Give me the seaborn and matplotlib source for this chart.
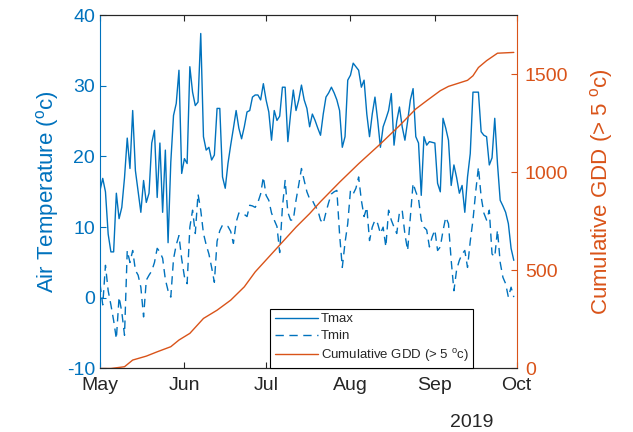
import numpy as np
import pandas as pd
import seaborn as sns
import matplotlib.pyplot as plt
import matplotlib.dates as mdates

# daily air temperature, 1 May - 30 Sep 2019
tmax = [15.2, 16.9, 15.0, 9.0, 6.5, 6.5, 14.8, 11.2, 12.8, 17.0,
        22.6, 18.3, 26.5, 18.0, 15.0, 12.1, 16.6, 13.5, 14.8, 21.9,
        23.7, 14.2, 21.9, 12.1, 20.9, 7.8, 19.2, 25.8, 27.5, 32.2,
        17.6,
        19.7, 19.0, 32.7, 29.1, 27.2, 27.7, 37.4, 22.8, 20.9, 21.3,
        19.5, 20.2, 26.8, 26.8, 17.1, 15.5, 19.0, 21.6, 24.0, 26.5,
        24.0, 22.5, 24.2, 26.3, 26.5, 28.4, 28.7, 28.7, 28.0, 30.3,
        28.0, 26.3, 22.3, 26.5, 25.1, 25.7, 29.8, 29.8, 22.1, 26.0,
        29.4, 26.5, 28.0, 30.1, 28.0, 26.8, 24.2, 26.0, 25.1, 24.0,
        23.0, 26.0, 28.4, 29.0, 29.8, 29.0, 28.0, 26.5, 21.3, 22.8,
        30.8,
        31.5, 33.2, 32.7, 32.2, 29.8, 30.8, 26.0, 22.8, 26.0, 28.4,
        25.1, 21.3, 24.2, 25.3, 26.5, 28.9, 21.6, 25.0, 27.0, 24.2,
        22.3, 25.0, 28.0, 29.6, 22.8, 21.9, 14.5, 22.8, 21.6, 22.1,
        22.0,
        21.9, 16.2, 15.0, 25.4, 24.0, 22.3, 15.9, 18.8, 17.0, 14.8,
        15.9, 12.1, 17.1, 20.4, 29.1, 29.1, 29.1, 23.5, 23.0, 22.8,
        18.8, 19.8, 25.4, 19.0, 13.8, 13.0, 12.1, 10.5, 7.0, 5.3]

tmin = [2.0, -1.0, 4.6, 1.0, -1.0, -3.2, -5.8, 0.1, -2.0, -5.3,
        6.7, 5.0, 6.7, 3.9, 3.2, 1.5, -2.7, 2.5, 3.2, 3.8,
        5.0, 7.0, 6.5, 5.6, 2.6, 1.0, 0.1, 5.5, 7.5, 8.8,
        5.5,
        3.0, 2.0, 10.0, 12.4, 9.1, 14.7, 12.4, 9.1, 7.5, 6.2,
        4.3, 2.2, 8.0, 9.5, 10.3, 10.2, 10.1, 9.4, 7.7, 10.7,
        12.0, 12.0, 11.8, 11.5, 13.1, 13.0, 12.8, 13.5, 14.7, 17.1,
        14.5, 13.8, 12.0, 11.0, 10.1, 6.4, 12.8, 16.6, 12.1, 11.0,
        11.0, 13.8, 16.0, 18.3, 16.6, 15.0, 14.0, 13.8, 13.0, 12.4,
        11.0, 10.5, 12.1, 13.5, 14.7, 15.0, 15.2, 9.0, 4.3, 7.8,
        10.5,
        15.2, 14.7, 15.5, 17.1, 13.8, 11.5, 12.8, 8.1, 10.0, 11.0,
        10.5, 9.1, 10.0, 7.2, 12.4, 11.0, 10.0, 9.1, 12.1, 12.4,
        9.0, 6.7, 11.5, 16.2, 15.0, 14.0, 11.0, 10.0, 9.6, 7.2,
        8.6,
        9.6, 6.7, 7.2, 9.5, 11.4, 10.5, 5.3, 1.0, 4.0, 5.3,
        6.2, 6.7, 4.3, 8.0, 11.0, 15.0, 18.5, 14.3, 12.0, 11.0,
        12.4, 6.2, 5.8, 9.6, 5.0, 2.9, 2.0, 0.1, 1.5, 0.1]

# cumulative growing degree days read at these days after 1 May
gdd_day = [0, 4, 9, 12, 17, 21, 26, 29, 33, 38, 43, 48, 53, 57, 62, 67,
           72, 77, 81, 88, 95, 103, 110, 116, 120, 125, 128, 135, 137,
           139, 142, 146, 152]
gdd = [0, 0, 9, 43, 63, 85, 111, 145, 179, 255, 297, 348, 416, 492, 568,
       644, 720, 789, 850, 949, 1043, 1144, 1237, 1322, 1364, 1415, 1437,
       1468, 1491, 1533, 1568, 1606, 1610]

start = pd.Timestamp("2019-05-01")
days = pd.date_range(start, periods=len(tmax), freq="D")
gdd_dates = start + pd.to_timedelta(gdd_day, unit="D")

blue = "#0072BD"
orange = "#D95319"
dark = "#262626"

sns.set_style("ticks")
plt.rcParams["font.family"] = ["Liberation Sans", "DejaVu Sans"]
plt.rcParams["mathtext.fontset"] = "custom"
plt.rcParams["mathtext.rm"] = "Liberation Sans"
plt.rcParams["axes.unicode_minus"] = False

fig = plt.figure(figsize=(6.33, 4.32), dpi=100)
ax = fig.add_axes([0.158, 0.147, 0.658, 0.818])
ax2 = ax.twinx()

sns.lineplot(x=days, y=tmax, ax=ax, color=blue, lw=1.0, label="Tmax", legend=False)
sns.lineplot(x=days, y=tmin, ax=ax, color=blue, lw=1.0, linestyle=(0, (6, 4)),
             label="Tmin", legend=False)
sns.lineplot(x=gdd_dates, y=gdd, ax=ax2, color=orange, lw=1.0,
             label="Cumulative GDD (> 5 $^{\\mathrm{o}}$c)", legend=False)

ax.set_xlim(pd.Timestamp("2019-05-01"), pd.Timestamp("2019-10-01"))
ax.set_ylim(-10, 40)
ax2.set_ylim(0, 1800)
ax.set_yticks([-10, 0, 10, 20, 30, 40])
ax2.set_yticks([0, 500, 1000, 1500])

ax.xaxis.set_major_locator(mdates.MonthLocator())
ax.xaxis.set_major_formatter(mdates.DateFormatter("%b"))

ax.set_ylabel("Air Temperature ($^{\\mathrm{o}}$c)", color=blue, fontsize=16, labelpad=4)
ax2.set_ylabel("Cumulative GDD (> 5 $^{\\mathrm{o}}$c)", color=orange, fontsize=16, labelpad=14)
ax.set_xlabel("")

ax.tick_params(axis="x", direction="in", top=True, colors=dark, labelsize=14,
               length=4, width=0.8, pad=6)
ax.tick_params(axis="y", direction="in", colors=blue, labelsize=14, length=4, width=0.8)
ax2.tick_params(axis="y", direction="in", colors=orange, labelsize=14, length=4,
                width=0.8, pad=6)

for a in (ax, ax2):
    a.spines["top"].set_color(dark)
    a.spines["bottom"].set_color(dark)
    a.spines["top"].set_visible(True)
    for s in a.spines.values():
        s.set_linewidth(0.8)
ax.spines["left"].set_color(blue)
ax2.spines["left"].set_visible(False)
ax.spines["right"].set_visible(False)
ax2.spines["right"].set_visible(True)
ax2.spines["right"].set_color(orange)

handles = ax.get_lines() + ax2.get_lines()
leg = ax2.legend(handles=handles, labels=[h.get_label() for h in handles],
                 loc="lower left", bbox_to_anchor=(0.408, 0.0), fontsize=9.5,
                 frameon=True, fancybox=False, framealpha=1, edgecolor="black",
                 handlelength=3.3, handletextpad=0.2, labelspacing=0.35,
                 borderpad=0.35, borderaxespad=0)
leg.get_frame().set_linewidth(0.8)

fig.text(0.745, 0.023, "2019", fontsize=14, color=dark, ha="center", va="center")

fig.savefig("out.png", dpi=100)
